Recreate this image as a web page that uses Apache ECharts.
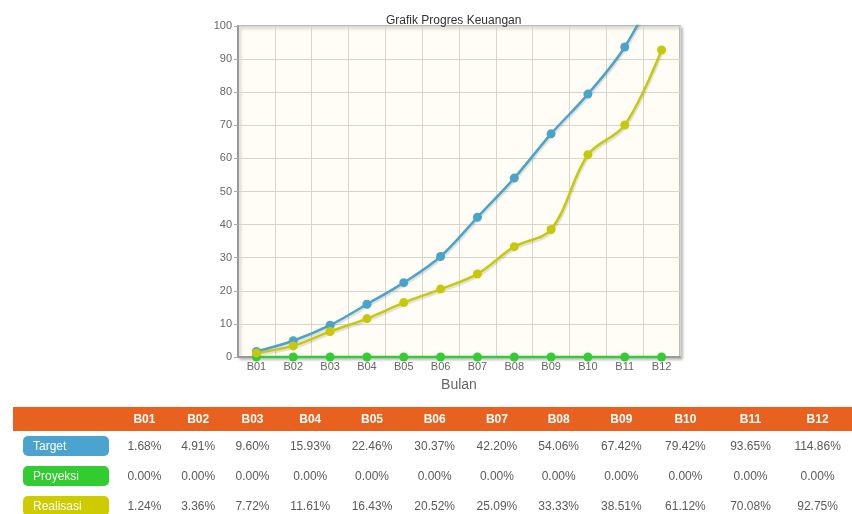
<!DOCTYPE html>
<html>
<head>
<meta charset="utf-8">
<script src="https://cdn.jsdelivr.net/npm/echarts@6/dist/echarts.min.js"></script>
<style>
  html, body { margin: 0; padding: 0; background: #fff; }
  #chart { position: absolute; left: 0; top: 0; width: 852px; height: 514px; }
  #tabel {
    position: absolute; left: 13px; top: 407px;
    border-collapse: collapse; table-layout: fixed;
    font-family: "Liberation Sans", Arial, sans-serif; font-size: 12px;
  }
  #tabel th { background: #e8611f; color: #fff; font-weight: bold; height: 24px; padding: 0; text-align: center; }
  #tabel td { color: #5a5a5a; height: 30px; padding: 0; text-align: center; }
  #tabel td.lbl { text-align: left; padding-left: 10px; }
  .pill {
    display: block; width: 76px; height: 20px; line-height: 20px;
    padding-left: 10px; border-radius: 5px; color: #fff; text-align: left;
  }
</style>
</head>
<body>
<div id="chart"></div>
<table id="tabel"></table>
<script>
  const bulan = ['B01', 'B02', 'B03', 'B04', 'B05', 'B06', 'B07', 'B08', 'B09', 'B10', 'B11', 'B12'];
  const target = [1.68, 4.91, 9.60, 15.93, 22.46, 30.37, 42.20, 54.06, 67.42, 79.42, 93.65, 114.86];
  const proyeksi = [0, 0, 0, 0, 0, 0, 0, 0, 0, 0, 0, 0];
  const realisasi = [1.24, 3.36, 7.72, 11.61, 16.43, 20.52, 25.09, 33.33, 38.51, 61.12, 70.08, 92.75];
  const namaSeri = ['Target', 'Proyeksi', 'Realisasi'];
  const warna = ['#4aa3c8', '#33cc33', '#c8c80a'];
  const warnaLabel = ['#4ba3d0', '#30cc30', '#cccc00'];

  // lebar kolom tabel (px)
  const lebarKolom = [105, 55, 55, 56, 62, 64, 64, 63, 63, 65, 66, 67, 70];

  // tabel di bawah grafik
  function buatTabel() {
    const tbl = document.getElementById('tabel');
    let html = '<colgroup>';
    lebarKolom.forEach(w => { html += '<col style="width:' + w + 'px">'; });
    html += '</colgroup><tr><th></th>';
    bulan.forEach(b => { html += '<th>' + b + '</th>'; });
    html += '</tr>';
    [target, proyeksi, realisasi].forEach((arr, i) => {
      html += '<tr><td class="lbl"><span class="pill" style="background:' + warnaLabel[i] + '">' + namaSeri[i] + '</span></td>';
      arr.forEach(v => { html += '<td>' + v.toFixed(2) + '%</td>'; });
      html += '</tr>';
    });
    tbl.innerHTML = html;
  }
  buatTabel();

  const myChart = echarts.init(document.getElementById('chart'));
  const fontUmum = '"Liberation Sans", Arial, sans-serif';

  myChart.setOption({
    animation: false,
    title: {
      text: 'Grafik Progres Keuangan',
      left: 381,
      top: 10,
      textStyle: { fontSize: 12, fontWeight: 'normal', color: '#333', fontFamily: fontUmum },
    },
    grid: {
      left: 238,
      right: 172,
      top: 26,
      bottom: 157,
      show: true,
      backgroundColor: '#fffdf6',
      borderColor: '#aaa',
      borderWidth: 1.5,
      shadowColor: 'rgba(0,0,0,0.25)',
      shadowBlur: 3,
      shadowOffsetX: 2,
      shadowOffsetY: 2,
    },
    xAxis: {
      type: 'category',
      data: bulan,
      boundaryGap: true,
      name: 'Bulan',
      nameLocation: 'middle',
      nameGap: 21,
      nameTextStyle: { fontSize: 14, color: '#666', fontFamily: fontUmum },
      axisLine: { lineStyle: { color: '#999', width: 2 } },
      axisTick: { show: true, alignWithLabel: true, length: 3, lineStyle: { color: '#aaa' } },
      axisLabel: { fontSize: 11, color: '#666', margin: 4, fontFamily: fontUmum },
      splitLine: { show: true, lineStyle: { color: '#d9d5ca', width: 1 } },
    },
    yAxis: {
      type: 'value',
      min: 0,
      max: 100,
      interval: 10,
      axisLine: { show: true, lineStyle: { color: '#999', width: 2 } },
      axisTick: { show: true, length: 4, lineStyle: { color: '#aaa' } },
      axisLabel: { fontSize: 11, color: '#666', margin: 6, fontFamily: fontUmum },
      splitLine: { show: true, lineStyle: { color: '#d9d5ca', width: 1 } },
    },
    series: [target, proyeksi, realisasi].map((arr, i) => ({
      type: 'line',
      name: namaSeri[i],
      data: arr,
      smooth: 0.35,
      symbol: 'circle',
      symbolSize: 9,
      clip: true,
      itemStyle: { color: warna[i] },
      lineStyle: {
        color: warna[i],
        width: 2.5,
        shadowColor: 'rgba(0,0,0,0.12)',
        shadowOffsetX: 1,
        shadowOffsetY: 2,
        shadowBlur: 1,
      },
    })),
  });
</script>
</body>
</html>
